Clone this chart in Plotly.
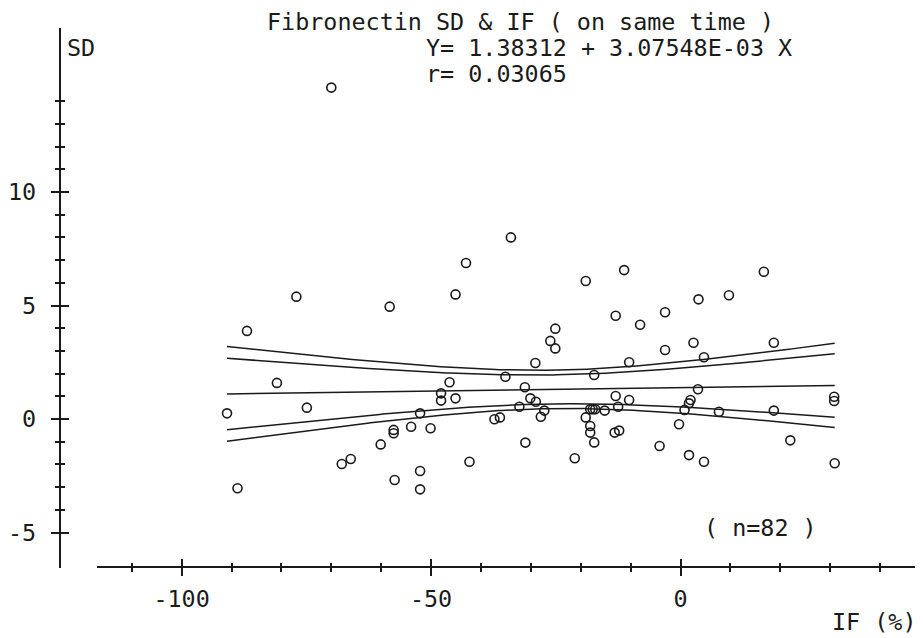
import numpy as np
import plotly.graph_objects as go

# ---- data ----
IF_PCT = [-77, -58.3, -86.9, -80.9, -74.9, -90.9, -60.1, -67.9, -66.1, -88.8,
          -57.5, -57.5, -57.3, -34, -43, -45.1, -25.1, -26.1, -25.1, -29.1,
          -35.1, -46.3, -48, -48, -45.1, -31.2, -52.2, -32.3, -30.1, -29,
          -27.3, -28, -37.3, -36.2, -54, -50.1, -31.1, -42.3, -52.2, -52.2,
          -21.2, -19, -11.3, -13, -8.1, -10.3, -17.3, -13, -10.3, -12.5,
          -18.1, -17.6, -17.1, -15.2, -19, -18.1, -18.1, -17.3, -13.2, -12.3,
          -4.2, -0.3, 0.8, 2.0, 1.7, -3.1, 3.6, 9.7, 16.7, -3.1,
          2.6, 18.7, 4.7, 3.5, 1.7, 7.7, 18.7, 30.8, 30.8, 4.7,
          22, 30.9, -70]
SD = [5.39, 4.95, 3.88, 1.59, 0.50, 0.25, -1.12, -1.98, -1.76, -3.05,
      -0.48, -0.63, -2.69, 8.0, 6.87, 5.49, 3.98, 3.44, 3.11, 2.47,
      1.86, 1.62, 1.13, 0.81, 0.91, 1.40, 0.25, 0.54, 0.91, 0.76,
      0.37, 0.10, -0.01, 0.07, -0.34, -0.41, -1.04, -1.88, -2.29, -3.10,
      -1.73, 6.08, 6.56, 4.55, 4.15, 2.50, 1.94, 1.01, 0.84, 0.54,
      0.43, 0.43, 0.43, 0.37, 0.07, -0.31, -0.60, -1.03, -0.60, -0.51,
      -1.19, -0.23, 0.40, 0.84, -1.59, 4.70, 5.27, 5.45, 6.49, 3.04,
      3.36, 3.36, 2.72, 1.31, 0.69, 0.32, 0.37, 0.98, 0.79, -1.88,
      -0.94, -1.95, 14.6]

INTERCEPT = 1.38312
SLOPE = 3.07548e-03
T95 = 1.990
T99 = 2.639

X_MAJOR = [-100, -50, 0]
X_MAJOR_TEXT = ["-100", "-50", "0"]
Y_MAJOR = [-5, 0, 5, 10]
Y_MAJOR_TEXT = ["-5", "0", "5", "10"]
Y_MINOR = list(range(-5, 15))

TITLE = "Fibronectin SD & IF ( on same time )"
EQN = "Y= 1.38312 + 3.07548E-03 X"
RTXT = "r= 0.03065"
NTXT = "( n=82 )"
XTITLE = "IF (%)"
YTITLE = "SD"

# ---- regression bands (95% and 99% confidence of the fitted line) ----
x = np.array(IF_PCT, float)
y = np.array(SD, float)
n = len(x)
resid = y - (INTERCEPT + SLOPE * x)
s = np.sqrt(np.sum(resid ** 2) / (n - 2))
xm = x.mean()
sxx = np.sum((x - xm) ** 2)
xl = np.linspace(x.min(), x.max(), 200)
yl = INTERCEPT + SLOPE * xl
se = s * np.sqrt(1.0 / n + (xl - xm) ** 2 / sxx)

# ---- layout geometry (window pixels; page body has an 8px margin) ----
OFF = 8
W, H = 923 - OFF, 638 - OFF
X0, KX = 680.0, 5.0
Y0, KY = 419.0, 22.7
XL, XR = 95, 917
YT, YB = 28, 568
XAX_Y, YAX_X = 567, 58


def fx(px):
    return (px - OFF) / W


def fy(py):
    return (H - (py - OFF)) / H


xr = [(XL - X0) / KX, (XR - X0) / KX]
yr = [(Y0 - YB) / KY, (Y0 - YT) / KY]
xdom = [fx(XL), fx(XR)]
ydom = [fy(YB), fy(YT)]

FONT = "DejaVu Sans Mono"
FS = 23.4
INK = "#1a1a1a"

fig = go.Figure()
line = dict(color=INK, width=1.5)
for k in (T99, T95):
    fig.add_trace(go.Scatter(x=xl, y=yl + k * se, mode="lines", line=line, hoverinfo="skip"))
    fig.add_trace(go.Scatter(x=xl, y=yl - k * se, mode="lines", line=line, hoverinfo="skip"))
fig.add_trace(go.Scatter(x=xl, y=yl, mode="lines", line=line, hoverinfo="skip"))
fig.add_trace(go.Scatter(x=IF_PCT, y=SD, mode="markers",
                         marker=dict(symbol="circle-open", size=9, color=INK,
                                     line=dict(width=1.6, color=INK))))
fig.add_trace(go.Scatter(x=[None], y=[None], xaxis="x3", yaxis="y3", hoverinfo="skip"))

tickfont = dict(family=FONT, size=FS, color=INK)
common_x = dict(range=xr, domain=xdom, anchor="free", position=fy(XAX_Y),
                showgrid=False, zeroline=False, fixedrange=True,
                tickmode="array", tickvals=X_MAJOR, ticklen=8, tickwidth=1.5,
                tickcolor=INK)
common_y = dict(range=yr, domain=ydom, anchor="free", position=fx(YAX_X),
                showgrid=False, zeroline=False, fixedrange=True,
                tickmode="array", tickvals=Y_MAJOR, ticklen=8, tickwidth=1.5,
                tickcolor=INK)

fig.update_layout(
    width=W, height=H, margin=dict(l=0, r=0, t=0, b=0),
    paper_bgcolor="white", plot_bgcolor="white", showlegend=False,
    xaxis=dict(**common_x, showline=True, linecolor=INK, linewidth=2,
               ticks="outside", ticktext=X_MAJOR_TEXT, tickfont=tickfont,
               ticklabelstandoff=3,
               minor=dict(dtick=10, tick0=0, ticks="outside", ticklen=4,
                          tickwidth=1.5, tickcolor=INK)),
    xaxis3=dict(**common_x, overlaying="x", showline=False, ticks="inside",
                showticklabels=False,
                minor=dict(dtick=10, tick0=0, ticks="inside", ticklen=4,
                           tickwidth=1.5, tickcolor=INK)),
    yaxis=dict(**common_y, showline=True, linecolor=INK, linewidth=2,
               ticks="outside", ticktext=Y_MAJOR_TEXT, tickfont=tickfont,
               ticklabelstandoff=10,
               minor=dict(tickmode="array", tickvals=Y_MINOR, ticks="outside",
                          ticklen=4, tickwidth=1.5, tickcolor=INK)),
    yaxis3=dict(**common_y, overlaying="y", showline=False, ticks="inside",
                showticklabels=False,
                minor=dict(tickmode="array", tickvals=Y_MINOR, ticks="inside",
                           ticklen=4, tickwidth=1.5, tickcolor=INK)),
)


def note(txt, px, py, anchor="left"):
    fig.add_annotation(text=txt, x=fx(px), y=fy(py), xref="paper", yref="paper",
                       xanchor=anchor, yanchor="middle", showarrow=False,
                       height=24, valign="middle", borderpad=0,
                       font=dict(family=FONT, size=FS, color=INK))


note(TITLE, 520, 22, "center")
note(EQN, 424, 48)
note(RTXT, 424, 74)
note(YTITLE, 64, 48)
note(NTXT, 703, 528)
note(XTITLE, 918, 622, "right")

fig.write_html("out.html")
